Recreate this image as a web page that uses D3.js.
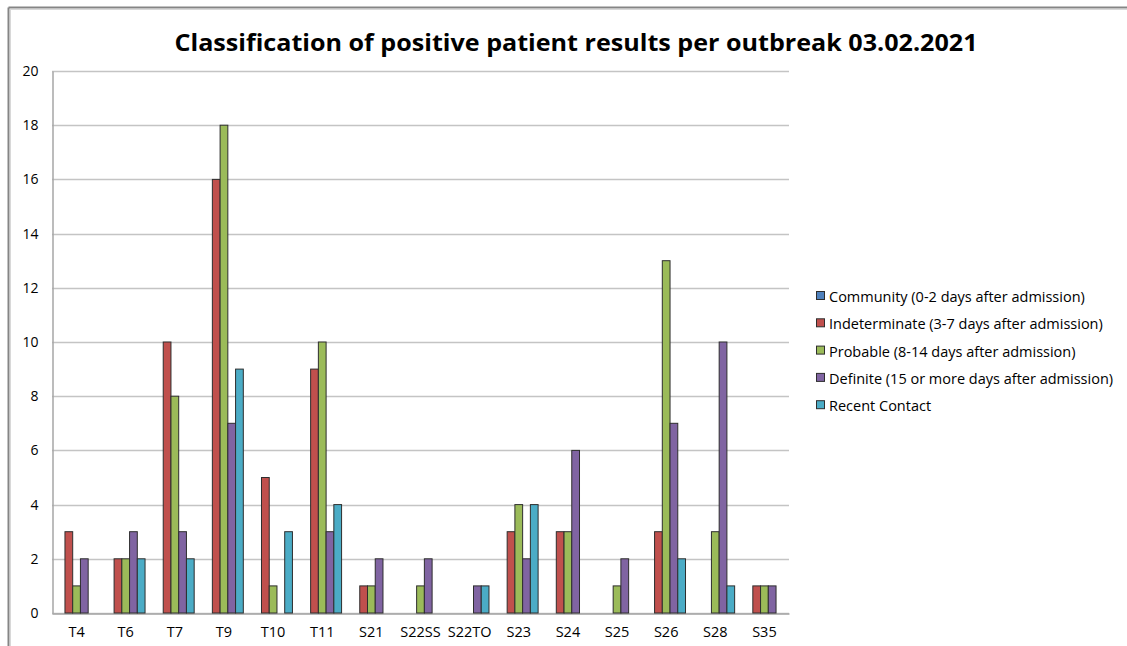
<!DOCTYPE html>
<html>
<head>
<meta charset="utf-8">
<script src="https://cdn.jsdelivr.net/npm/d3@7"></script>
<style>
  html, body { margin: 0; padding: 0; background: #fff; }
  svg { display: block; }
  text { font-family: "Open Sans", "Noto Sans", sans-serif; fill: #000; }
</style>
</head>
<body>
<svg id="chart" width="1127" height="646"></svg>
<script>
// Outbreak wards
const categories = ["T4", "T6", "T7", "T9", "T10", "T11", "S21", "S22SS", "S22TO", "S23", "S24", "S25", "S26", "S28", "S35"];

// Series names (legend order)
const seriesNames = [
  "Community (0-2 days after admission)",
  "Indeterminate (3-7 days after admission)",
  "Probable (8-14 days after admission)",
  "Definite (15 or more days after admission)",
  "Recent Contact"
];

// Positive patient counts per outbreak, one array per classification
const community     = [0, 0, 0, 0, 0, 0, 0, 0, 0, 0, 0, 0, 0, 0, 0];
const indeterminate = [3, 2, 10, 16, 5, 9, 1, 0, 0, 3, 3, 0, 3, 0, 1];
const probable      = [1, 2, 8, 18, 1, 10, 1, 1, 0, 4, 3, 1, 13, 3, 1];
const definite      = [2, 3, 3, 7, 0, 3, 2, 2, 1, 2, 6, 2, 7, 10, 1];
const recentContact = [0, 2, 2, 9, 3, 4, 0, 0, 1, 4, 0, 0, 2, 1, 0];

const yTicks = [0, 2, 4, 6, 8, 10, 12, 14, 16, 18, 20];

const titleText = "Classification of positive patient results per outbreak 03.02.2021";

const colors = ["#4F81BD", "#C0504D", "#9BBB59", "#8064A2", "#4BACC6"];

const seriesValues = [community, indeterminate, probable, definite, recentContact];

const svg = d3.select("#chart");

// outer frame of the chart object
svg.append("line").attr("x1", 8.5).attr("x2", 1127).attr("y1", 7.5).attr("y2", 7.5)
  .attr("stroke", "#858585").attr("stroke-width", 2);
svg.append("line").attr("x1", 8.5).attr("x2", 8.5).attr("y1", 7.5).attr("y2", 646)
  .attr("stroke", "#858585").attr("stroke-width", 2);
svg.append("line").attr("x1", 10).attr("x2", 1127).attr("y1", 9.5).attr("y2", 9.5)
  .attr("stroke", "#d8d8d8").attr("stroke-width", 1);
svg.append("line").attr("x1", 10.5).attr("x2", 10.5).attr("y1", 9).attr("y2", 646)
  .attr("stroke", "#d8d8d8").attr("stroke-width", 1);

const plot = { left: 52, right: 789, top: 71, bottom: 613 };

const x0 = d3.scaleBand().domain(categories).range([plot.left, plot.right]).paddingInner(0).paddingOuter(0);
const groupInner = x0.bandwidth() * 5 / 6.35;
const x1 = d3.scaleBand().domain(d3.range(seriesNames.length))
  .range([(x0.bandwidth() - groupInner) / 2, (x0.bandwidth() + groupInner) / 2]);
const y = d3.scaleLinear().domain([0, 20]).range([plot.bottom, plot.top]);

// horizontal gridlines
svg.append("g")
  .selectAll("line")
  .data(yTicks)
  .join("line")
  .attr("x1", plot.left).attr("x2", plot.right)
  .attr("y1", d => Math.round(y(d)) + 0.5).attr("y2", d => Math.round(y(d)) + 0.5)
  .attr("stroke", "#c4c4c4").attr("stroke-width", 1.5);

// y axis
const yAxis = d3.axisLeft(y).tickValues(yTicks).tickSize(0).tickPadding(14);
const gy = svg.append("g").attr("transform", `translate(${plot.left + 0.5},0)`).call(yAxis);
gy.select(".domain").attr("stroke", "#a6a6a6").attr("stroke-width", 1.5);
gy.selectAll("text").style("font-size", "14px").attr("fill", "#000")
  .style("font-family", "'Open Sans', sans-serif");

// x axis
const xAxis = d3.axisBottom(x0).tickSize(0).tickPadding(13);
const gx = svg.append("g").attr("transform", `translate(0,${plot.bottom + 0.5})`).call(xAxis);
gx.select(".domain").attr("stroke", "#a6a6a6").attr("stroke-width", 1.5);
gx.selectAll("text").style("font-size", "14.5px").attr("fill", "#000")
  .style("font-family", "'Open Sans', sans-serif");

// grouped bars
const groups = svg.append("g")
  .selectAll("g")
  .data(categories)
  .join("g")
  .attr("transform", d => `translate(${x0(d)},0)`);

groups.selectAll("rect")
  .data((d, i) => seriesValues.map((vals, s) => ({ s, v: vals[i] })).filter(e => e.v > 0))
  .join("rect")
  .attr("x", d => x1(d.s))
  .attr("width", x1.bandwidth())
  .attr("y", d => y(d.v))
  .attr("height", d => y(0) - y(d.v))
  .attr("fill", d => colors[d.s])
  .attr("stroke", "#2e2e2e")
  .attr("stroke-width", 1);

// title
svg.append("text")
  .attr("x", 576).attr("y", 51)
  .attr("text-anchor", "middle")
  .style("font-size", "23px")
  .style("font-weight", "700")
  .attr("textLength", 803)
  .attr("lengthAdjust", "spacingAndGlyphs")
  .text(titleText);

// legend
const legend = svg.append("g").attr("transform", "translate(816,297)");
const items = legend.selectAll("g")
  .data(seriesNames)
  .join("g")
  .attr("transform", (d, i) => `translate(0,${i * 27.3})`);
items.append("rect")
  .attr("x", 0.5).attr("y", -5.5).attr("width", 8).attr("height", 8)
  .attr("fill", (d, i) => colors[i])
  .attr("stroke", "#2e2e2e").attr("stroke-width", 1);
items.append("text")
  .attr("x", 13).attr("y", 0).attr("dy", "0.35em")
  .style("font-size", "14.5px")
  .text(d => d);
</script>
</body>
</html>
